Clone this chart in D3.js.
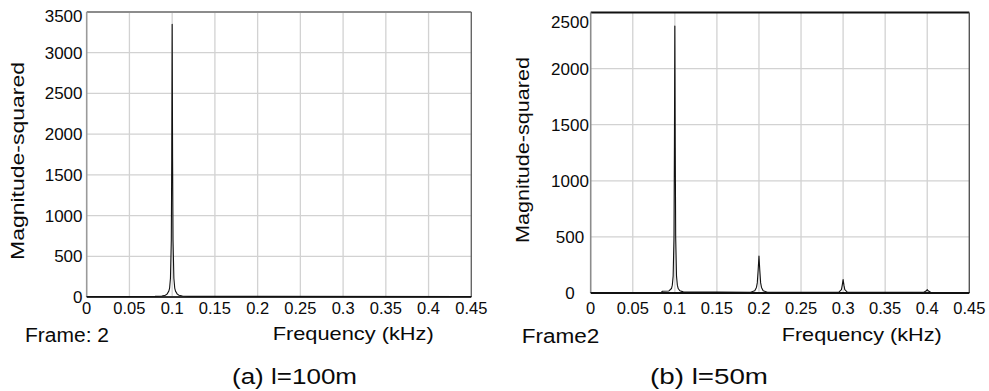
<!DOCTYPE html>
<html>
<head>
<meta charset="utf-8">
<script src="https://cdn.jsdelivr.net/npm/d3@7/dist/d3.min.js"></script>
<style>
  html, body { margin: 0; padding: 0; background: #fff; }
  svg { display: block; }
  text { font-family: "Liberation Sans", Arial, Helvetica, sans-serif; fill: #0a0a0a; }
</style>
</head>
<body>
<svg id="chart" width="989" height="391"></svg>
<script>
// ---------- data ----------
const xTicks = [0, 0.05, 0.1, 0.15, 0.2, 0.25, 0.3, 0.35, 0.4, 0.45];
const xTickLabels = ["0", "0.05", "0.1", "0.15", "0.2", "0.25", "0.3", "0.35", "0.4", "0.45"];
const yTicksA = [0, 500, 1000, 1500, 2000, 2500, 3000, 3500];
const yTicksB = [0, 500, 1000, 1500, 2000, 2500];

// (a) l=100m spectrum (frequency kHz, magnitude-squared)
const freqA = [0, 0.08, 0.088, 0.092, 0.094, 0.096, 0.097, 0.098, 0.099, 0.0995, 0.1,
               0.1005, 0.101, 0.102, 0.103, 0.104, 0.106, 0.108, 0.112, 0.12, 0.45];
const magA  = [6, 8, 12, 22, 35, 70, 110, 230, 700, 1700, 3350,
               1700, 700, 230, 110, 70, 35, 22, 12, 8, 6];

// (b) l=50m spectrum
const freqB = [0, 0.084, 0.085, 0.093, 0.096, 0.097, 0.098, 0.099, 0.0995, 0.1,
               0.1005, 0.101, 0.102, 0.103, 0.104, 0.106, 0.11,
               0.19, 0.195, 0.197, 0.198, 0.199, 0.2, 0.201, 0.202, 0.203, 0.205, 0.21,
               0.295, 0.298, 0.299, 0.3, 0.301, 0.302, 0.305,
               0.396, 0.399, 0.4, 0.401, 0.404, 0.45];
const magB  = [5, 6, 15, 18, 40, 70, 150, 500, 1300, 2380,
               1300, 500, 150, 70, 40, 20, 10,
               6, 20, 50, 90, 200, 330, 200, 90, 50, 20, 6,
               8, 30, 70, 120, 70, 30, 8,
               6, 20, 30, 20, 6, 5];

const yTitle = "Magnitude-squared";
const xTitle = "Frequency (kHz)";
const frameA = "Frame: 2";
const frameB = "Frame2";
const captionA = "(a) l=100m";
const captionB = "(b) l=50m";

// ---------- layout ----------
const svg = d3.select("#chart");

const panels = [
  {
    freq: freqA, mag: magA, yTicks: yTicksA, yMax: 3500,
    x0: 86.7, x1: 471.3, yBottom: 297, yTop: 12,
    yLabelX: 82.5, yLabelAnchor: "end", yLabelMinY: 16,
    topColor: "#8c8c8c", leftColor: "#9a9a9a", rightColor: "#666", bottomColor: "#333",
    yTitleX: 23.5, yTitleY: 161, yTitleLen: 198,
    xTitleX: 272.7, xTitleY: 340, xTitleLen: 161,
    frame: frameA, frameX: 25, frameY: 342, frameLen: 84,
    caption: captionA, capX: 232, capY: 384, capLen: 125
  },
  {
    freq: freqB, mag: magB, yTicks: yTicksB, yMax: 2500,
    x0: 590.7, x1: 969.3, yBottom: 293, yTop: 12.5,
    yLabelX: 570, yLabelAnchor: "middle", yLabelMinY: 22.5,
    topColor: "#111", leftColor: "#8c8c8c", rightColor: "#555", bottomColor: "#111",
    yTitleX: 529, yTitleY: 150, yTitleLen: 186,
    xTitleX: 781.7, xTitleY: 341, xTitleLen: 160,
    frame: frameB, frameX: 521.7, frameY: 343, frameLen: 77.6,
    caption: captionB, capX: 650, capY: 384, capLen: 118
  }
];

panels.forEach(p => {
  const x = d3.scaleLinear().domain([0, 0.45]).range([p.x0, p.x1]);
  const y = d3.scaleLinear().domain([0, p.yMax]).range([p.yBottom, p.yTop]);
  const g = svg.append("g");

  // grid
  g.append("g").selectAll("line.vg")
    .data(xTicks.slice(1, -1)).enter().append("line")
    .attr("x1", d => x(d)).attr("x2", d => x(d))
    .attr("y1", p.yTop).attr("y2", p.yBottom)
    .attr("stroke", "#d2d2d2").attr("stroke-width", 1.3);
  g.append("g").selectAll("line.hg")
    .data(p.yTicks.slice(1, -1)).enter().append("line")
    .attr("x1", p.x0).attr("x2", p.x1)
    .attr("y1", d => y(d)).attr("y2", d => y(d))
    .attr("stroke", "#d2d2d2").attr("stroke-width", 1.3);

  // frame
  g.append("line").attr("x1", p.x0).attr("x2", p.x1).attr("y1", p.yTop).attr("y2", p.yTop)
    .attr("stroke", p.topColor).attr("stroke-width", 1.8);
  g.append("line").attr("x1", p.x0).attr("x2", p.x0).attr("y1", p.yTop).attr("y2", p.yBottom)
    .attr("stroke", p.leftColor).attr("stroke-width", 1.6);
  g.append("line").attr("x1", p.x1).attr("x2", p.x1).attr("y1", p.yTop).attr("y2", p.yBottom)
    .attr("stroke", p.rightColor).attr("stroke-width", 1.4);
  g.append("line").attr("x1", p.x0).attr("x2", p.x1).attr("y1", p.yBottom).attr("y2", p.yBottom)
    .attr("stroke", p.bottomColor).attr("stroke-width", 2);

  // data line
  const line = d3.line().x(d => x(d[0])).y(d => y(d[1]));
  g.append("path")
    .datum(p.freq.map((f, i) => [f, p.mag[i]]))
    .attr("d", line)
    .attr("fill", "none").attr("stroke", "#111").attr("stroke-width", 1.1)
    .attr("stroke-linejoin", "round");

  // x tick labels
  g.append("g").selectAll("text.xt")
    .data(xTicks).enter().append("text")
    .attr("x", d => x(d)).attr("y", 314)
    .attr("text-anchor", "middle").attr("font-size", 16.5)
    .text((d, i) => xTickLabels[i]);

  // y tick labels
  g.append("g").selectAll("text.yt")
    .data(p.yTicks).enter().append("text")
    .attr("x", p.yLabelX).attr("y", d => Math.max(y(d), p.yLabelMinY))
    .attr("dy", "0.35em")
    .attr("text-anchor", p.yLabelAnchor).attr("font-size", 17)
    .text(d => d);

  // y title
  g.append("text")
    .attr("transform", `translate(${p.yTitleX},${p.yTitleY}) rotate(-90)`)
    .attr("text-anchor", "middle").attr("font-size", 17.5)
    .attr("textLength", p.yTitleLen).attr("lengthAdjust", "spacingAndGlyphs")
    .text(yTitle);

  // x title
  g.append("text")
    .attr("x", p.xTitleX).attr("y", p.xTitleY)
    .attr("font-size", 18.5)
    .attr("textLength", p.xTitleLen).attr("lengthAdjust", "spacingAndGlyphs")
    .text(xTitle);

  // frame label
  g.append("text")
    .attr("x", p.frameX).attr("y", p.frameY)
    .attr("font-size", 20)
    .attr("textLength", p.frameLen).attr("lengthAdjust", "spacingAndGlyphs")
    .text(p.frame);

  // caption
  g.append("text")
    .attr("x", p.capX).attr("y", p.capY)
    .attr("font-size", 22.5)
    .attr("textLength", p.capLen).attr("lengthAdjust", "spacingAndGlyphs")
    .text(p.caption);
});
</script>
</body>
</html>
